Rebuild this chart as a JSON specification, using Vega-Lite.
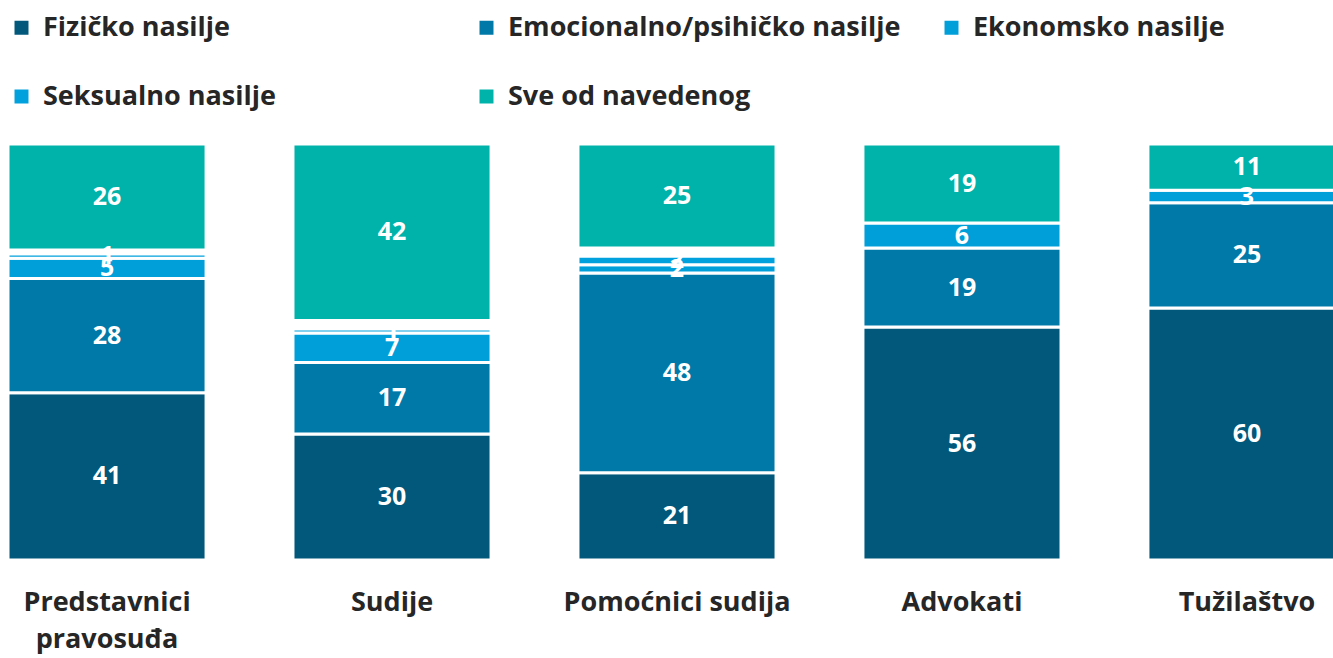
{
  "$schema": "https://vega.github.io/schema/vega-lite/v6.json",
  "width": 1333,
  "height": 416,
  "autosize": {"type": "none"},
  "padding": {"left": 0, "top": 144, "right": 0, "bottom": 98},
  "background": "white",
  "config": {"view": {"stroke": null}, "font": "Open Sans"},
  "data": {
    "values": [
      {"g": "Predstavnici pravosuđa", "s": "Fizičko nasilje", "v": 41},
      {"g": "Predstavnici pravosuđa", "s": "Emocionalno/psihičko nasilje", "v": 28},
      {"g": "Predstavnici pravosuđa", "s": "Ekonomsko nasilje", "v": 5},
      {"g": "Predstavnici pravosuđa", "s": "Seksualno nasilje", "v": 1},
      {"g": "Predstavnici pravosuđa", "s": "Ostalo", "v": 1},
      {"g": "Predstavnici pravosuđa", "s": "Sve od navedenog", "v": 26},
      {"g": "Sudije", "s": "Fizičko nasilje", "v": 30},
      {"g": "Sudije", "s": "Emocionalno/psihičko nasilje", "v": 17},
      {"g": "Sudije", "s": "Ekonomsko nasilje", "v": 7},
      {"g": "Sudije", "s": "Seksualno nasilje", "v": 1},
      {"g": "Sudije", "s": "Ostalo", "v": 2},
      {"g": "Sudije", "s": "Sve od navedenog", "v": 42},
      {"g": "Pomoćnici sudija", "s": "Fizičko nasilje", "v": 21},
      {"g": "Pomoćnici sudija", "s": "Emocionalno/psihičko nasilje", "v": 48},
      {"g": "Pomoćnici sudija", "s": "Ekonomsko nasilje", "v": 2},
      {"g": "Pomoćnici sudija", "s": "Seksualno nasilje", "v": 2},
      {"g": "Pomoćnici sudija", "s": "Ostalo", "v": 2},
      {"g": "Pomoćnici sudija", "s": "Sve od navedenog", "v": 25},
      {"g": "Advokati", "s": "Fizičko nasilje", "v": 56},
      {"g": "Advokati", "s": "Emocionalno/psihičko nasilje", "v": 19},
      {"g": "Advokati", "s": "Ekonomsko nasilje", "v": 6},
      {"g": "Advokati", "s": "Sve od navedenog", "v": 19},
      {"g": "Tužilaštvo", "s": "Fizičko nasilje", "v": 60},
      {"g": "Tužilaštvo", "s": "Emocionalno/psihičko nasilje", "v": 25},
      {"g": "Tužilaštvo", "s": "Ekonomsko nasilje", "v": 3},
      {"g": "Tužilaštvo", "s": "Sve od navedenog", "v": 11}
    ]
  },
  "transform": [
    {"calculate": "indexof(['Fizičko nasilje','Emocionalno/psihičko nasilje','Ekonomsko nasilje','Seksualno nasilje','Ostalo','Sve od navedenog'], datum.s)", "as": "o"},
    {"stack": "v", "groupby": ["g"], "sort": [{"field": "o"}], "offset": "normalize", "as": ["y0", "y1"]},
    {"calculate": "(datum.y0 + datum.y1) / 2", "as": "m"}
  ],
  "encoding": {
    "x": {
      "field": "g",
      "type": "nominal",
      "sort": ["Predstavnici pravosuđa", "Sudije", "Pomoćnici sudija", "Advokati", "Tužilaštvo"],
      "scale": {"range": [8, 1346], "paddingInner": 0.305, "paddingOuter": 0},
      "axis": {
        "title": null,
        "orient": "bottom",
        "domain": false,
        "ticks": false,
        "grid": false,
        "labelAngle": 0,
        "labelFont": "Open Sans",
        "labelFontSize": 27,
        "labelFontWeight": "bold",
        "labelColor": "#262626",
        "labelPadding": 29,
        "labelBaseline": "top",
        "labelLineHeight": 37,
        "labelLimit": 400,
        "labelOverlap": false,
        "labelExpr": "datum.value == 'Predstavnici pravosuđa' ? ['Predstavnici', 'pravosuđa'] : datum.value"
      }
    }
  },
  "layer": [
    {
      "transform": [{"filter": "datum.s !== 'Ostalo'"}],
      "mark": {"type": "bar", "stroke": "white", "strokeWidth": 3},
      "encoding": {
        "y": {"field": "y0", "type": "quantitative", "scale": {"domain": [0, 1]}, "axis": null},
        "y2": {"field": "y1"},
        "color": {
          "field": "s",
          "type": "nominal",
          "scale": {
            "domain": ["Fizičko nasilje", "Emocionalno/psihičko nasilje", "Ekonomsko nasilje", "Seksualno nasilje", "Sve od navedenog"],
            "range": ["#01587A", "#0079A8", "#009FDA", "#00A1DC", "#00B3AA"]
          },
          "legend": {
            "orient": "none",
            "direction": "horizontal",
            "legendX": 8,
            "legendY": -130,
            "title": null,
            "columns": 3,
            "gridAlign": "all",
            "columnPadding": 37,
            "rowPadding": 41,
            "padding": 0,
            "symbolType": "square",
            "symbolSize": 196,
            "symbolStrokeWidth": 0,
            "labelFont": "Open Sans",
            "labelFontSize": 27,
            "labelFontWeight": "bold",
            "labelColor": "#262626",
            "labelOffset": 8,
            "labelLimit": 600
          }
        }
      }
    },
    {
      "transform": [{"filter": "datum.s !== 'Ostalo' && datum.v > 0"}],
      "mark": {"type": "text", "fill": "white", "fontWeight": "bold", "fontSize": 25, "font": "Open Sans", "baseline": "middle"},
      "encoding": {
        "y": {"field": "m", "type": "quantitative", "scale": {"domain": [0, 1]}},
        "text": {"field": "v", "type": "quantitative"}
      }
    }
  ]
}
